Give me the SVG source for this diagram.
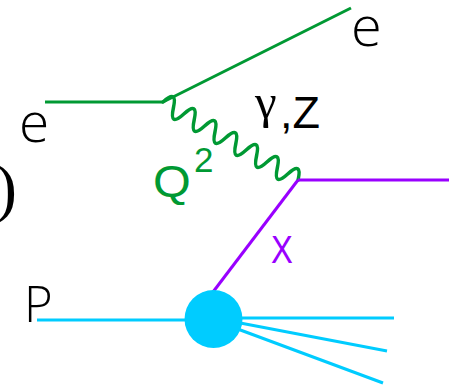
<svg xmlns="http://www.w3.org/2000/svg" width="454" height="390" viewBox="0 0 454 390">
<style>
.thin{font-family:"Open Sans","Liberation Sans",Arial,sans-serif;font-weight:300}
.lbl{font-family:"Liberation Sans",Arial,sans-serif}
.g{stroke:#009933;fill:none;stroke-width:3}
.w{stroke:#009933;fill:none;stroke-width:3.5;stroke-linecap:round}
.p{stroke:#9900ff;fill:none;stroke-width:3}
.c{stroke:#00ccff;fill:none;stroke-width:3}
</style>
<rect width="454" height="390" fill="#fff"/>
<g id="connectors">
<path id="e-in" class="g" d="M45,102 L163,102"/>
<path id="e-out" class="g" d="M163,102 L351,8"/>
<path id="photon" class="w" transform="translate(163,102) rotate(30)" d="M0,0 q6,-19 12,0 t12,0 t12,0 t12,0 t12,0 t12,0 t12,0 t12,0 t12,0 t12,0 t12,0 t12,0 t12,0"/>
<path id="quark-out" class="p" d="M298,180 L449,180"/>
<path id="quark-in" class="p" d="M298,180 L213,292"/>
<path id="p-in" class="c" d="M37,320 L200,320"/>
<path id="rem1" class="c" d="M235,318 L394,318"/>
<path id="rem2" class="c" d="M235,322 L387,351"/>
<path id="rem3" class="c" d="M235,328 L383,383"/>
</g>
<g id="blob"><circle cx="213.5" cy="319" r="29" fill="#00ccff"/></g>
<g id="labels">
<text class="thin" x="351" y="46" font-size="56" fill="#000">e</text>
<text class="thin" x="19" y="142" font-size="55" fill="#000">e</text>
<text x="255" y="118" font-family="'Liberation Serif','Times New Roman',serif" font-size="49" fill="#000">γ</text>
<text class="lbl" x="280" y="128" font-size="45" fill="#000">,Z</text>
<text class="lbl" transform="translate(153,197) scale(1.08,1)" font-size="45" fill="#009933">Q</text>
<text class="lbl" x="194" y="172" font-size="35" fill="#009933">2</text>
<text class="lbl" transform="translate(271,263) scale(0.84,1)" font-size="39" fill="#9900ff">X</text>
<text class="thin" x="24" y="322" font-size="49" fill="#000">P</text>
<text x="-5" y="210" font-family="'Liberation Serif','Times New Roman',serif" font-size="66" fill="#000">)</text>
</g>
</svg>
